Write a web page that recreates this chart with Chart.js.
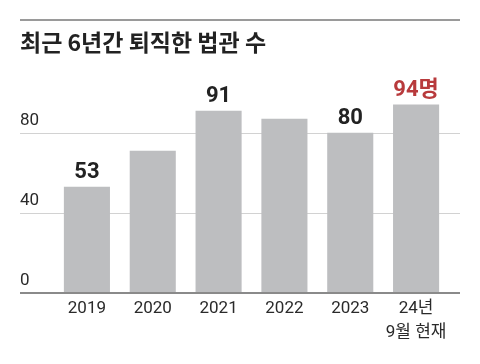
<!DOCTYPE html>
<html>
<head>
<meta charset="utf-8">
<script src="https://cdn.jsdelivr.net/npm/chart.js@4"></script>
<style>
  html, body { margin: 0; padding: 0; background: #fff; }
  #wrap { width: 480px; height: 364px; }
</style>
</head>
<body>
<div id="wrap"><canvas id="chart" width="480" height="364"></canvas></div>
<script>
const titleText = '최근 6년간 퇴직한 법관 수';
const categories = ['2019', '2020', '2021', '2022', '2023', ['24년', '9월 현재']];
const values = [53, 71, 91, 87, 80, 94];
const valueLabels = ['53', '', '91', '', '80', '94명'];
const labelColors = ['#222', '#222', '#222', '#222', '#222', '#b83a3c'];
const yTicks = [0, 40, 80];

const fontFam = "Roboto, 'Noto Sans CJK KR', sans-serif";

// gridlines run wider than the plot area, plus top rule and value labels
const decor = {
    id: 'decor',
    beforeDraw(chart) {
        const ctx = chart.ctx;
        ctx.save();
        ctx.strokeStyle = '#9a9a9a';
        ctx.lineWidth = 2;
        ctx.beginPath();
        ctx.moveTo(20, 20);
        ctx.lineTo(460, 20);
        ctx.stroke();
        ctx.restore();
    },
    beforeDatasetsDraw(chart) {
        const ctx = chart.ctx;
        const y = chart.scales.y;
        ctx.save();
        ctx.strokeStyle = '#d2d2d2';
        ctx.lineWidth = 1;
        yTicks.forEach(v => {
            if (v === 0) return;
            const py = Math.round(y.getPixelForValue(v)) + 0.5;
            ctx.beginPath();
            ctx.moveTo(20, py);
            ctx.lineTo(460, py);
            ctx.stroke();
        });
        ctx.restore();
    },
    afterDatasetsDraw(chart) {
        const ctx = chart.ctx;
        const y = chart.scales.y;
        ctx.save();
        ctx.strokeStyle = '#8a8a8a';
        ctx.lineWidth = 2;
        const py = y.getPixelForValue(0);
        ctx.beginPath();
        ctx.moveTo(20, py);
        ctx.lineTo(460, py);
        ctx.stroke();

        const meta = chart.getDatasetMeta(0);
        ctx.font = 'bold 22px ' + fontFam;
        ctx.textAlign = 'center';
        ctx.textBaseline = 'alphabetic';
        meta.data.forEach((bar, i) => {
            if (!valueLabels[i]) return;
            ctx.fillStyle = labelColors[i];
            ctx.fillText(valueLabels[i], bar.x, bar.y - 9);
        });
        ctx.restore();
    }
};

const ctx = document.getElementById('chart').getContext('2d');
new Chart(ctx, {
    type: 'bar',
    data: {
        labels: categories,
        datasets: [{
            data: values,
            backgroundColor: '#bdbec0',
            borderWidth: 0,
            barPercentage: 1,
            categoryPercentage: 0.7
        }]
    },
    options: {
        responsive: false,
        animation: false,
        layout: { padding: { left: 20, right: 31, top: 0, bottom: 0 } },
        plugins: {
            legend: { display: false },
            tooltip: { enabled: false },
            title: {
                display: true,
                text: titleText,
                align: 'start',
                color: '#222',
                font: { family: "'Noto Sans CJK KR', sans-serif", size: 23, weight: 'bold', lineHeight: 1.2 },
                padding: { top: 28, bottom: 37 }
            }
        },
        scales: {
            x: {
                grid: { display: false, drawTicks: false },
                border: { display: false },
                ticks: {
                    color: '#2a2a2a',
                    padding: 4,
                    autoSkip: false,
                    maxRotation: 0,
                    minRotation: 0,
                    font: { family: fontFam, size: 17, lineHeight: 1.4 }
                },
                afterFit(scale) { scale.height = 71; }
            },
            y: {
                min: 0,
                max: 100,
                grid: { display: false, drawTicks: false },
                border: { display: false },
                afterBuildTicks(scale) { scale.ticks = yTicks.map(v => ({ value: v })); },
                afterFit(scale) { scale.width = 34; },
                ticks: {
                    color: '#2a2a2a',
                    padding: 0,
                    crossAlign: 'far',
                    labelOffset: -12,
                    font: { family: fontFam, size: 17 }
                }
            }
        }
    },
    plugins: [decor]
});
</script>
</body>
</html>
